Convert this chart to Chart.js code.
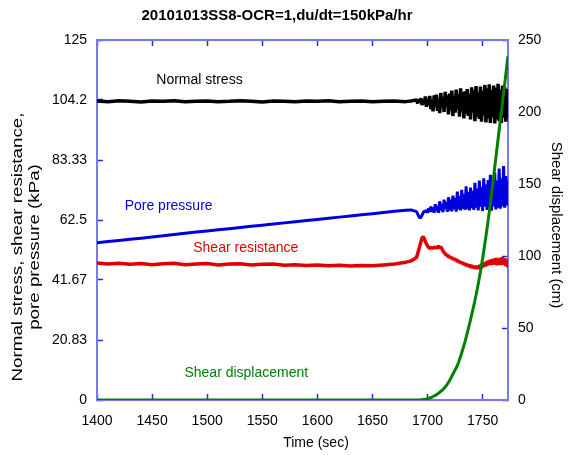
<!DOCTYPE html>
<html><head><meta charset="utf-8">
<script src="https://cdn.jsdelivr.net/npm/chart.js@4"></script>
<style>html,body{margin:0;padding:0;background:#fff;}canvas{display:block;}</style>
</head><body>
<canvas id="c" width="568" height="455"></canvas>
<script>
const chartTitle = '20101013SS8-OCR=1,du/dt=150kPa/hr';
const xTitle = 'Time (sec)';
const leftTitle = ['Normal stress, shear resistance,', 'pore pressure (kPa)'];
const rightTitle = 'Shear displacement (cm)';

const time = [
  1400,1410,1420,1430,1440,1450,1460,1470,1480,1490,
  1500,1510,1520,1530,1540,1550,1560,1570,1580,1590,
  1600,1610,1620,1630,1640,1650,1660,1670,1680,1685,
  1690,1691,1692,1693,1694,1695,1696,1697,1698,1699,
  1700,1701,1702,1703,1704,1705,1706,1707,1708,1709,
  1710,1711,1712,1713,1714,1715,1716,1717,1718,1719,
  1720,1721,1722,1723,1724,1725,1726,1727,1728,1729,
  1730,1731,1732,1733,1734,1735,1736,1737,1738,1739,
  1740,1741,1742,1743,1744,1745,1746,1747,1748,1749,
  1750,1751,1752,1753,1754,1755,1756,1757,1758,1759,
  1760,1761,1762,1763,1764,1765,1766,1767,1768,1769,
  1770,1771,1772,1773
];
const normalStress = [
  103.8,103.6,103.9,103.7,103.5,103.8,103.7,103.9,103.6,103.7,
  103.8,103.6,103.7,103.9,103.7,103.5,103.8,103.7,103.6,103.8,
  103.7,103.9,103.6,103.7,103.8,103.6,103.7,103.8,103.6,103.8,
  104.2,103.0,104.4,103.4,104.8,102.4,104.0,102.8,105.4,101.8,
  104.4,102.6,105.6,101.0,103.8,100.2,105.8,102.0,106.0,100.4,
  104.6,99.6,106.6,101.6,105.2,100.0,107.0,102.2,105.8,99.2,
  106.4,100.6,107.4,98.6,105.6,99.8,107.8,101.0,106.2,98.4,
  108.2,100.2,106.8,97.8,107.2,99.4,108.0,98.6,106.4,97.4,
  108.6,99.8,107.6,96.8,109.0,98.4,106.8,97.6,108.8,96.6,
  107.4,98.8,109.4,96.4,108.2,97.8,109.6,96.2,107.6,98.2,
  109.2,96.0,108.4,97.4,109.8,96.8,107.8,96.2,109.2,98.0,
  108.6,96.6,108.0,97.8
];
const porePressure = [
  54.6,55.0,55.4,55.8,56.2,56.6,57.0,57.5,57.9,58.3,
  58.7,59.1,59.5,59.9,60.3,60.7,61.1,61.5,61.9,62.3,
  62.7,63.1,63.5,63.9,64.3,64.7,65.1,65.5,65.9,66.0,
  65.4,64.6,63.8,63.2,63.4,64.2,65.0,65.6,65.2,66.0,
  65.0,66.5,65.4,67.2,65.3,66.8,65.0,68.0,65.6,67.4,
  65.0,69.0,65.8,68.2,65.2,69.6,66.2,68.8,65.3,70.4,
  65.8,69.6,65.5,71.0,66.2,70.2,65.4,72.4,66.2,70.8,
  65.8,73.0,66.4,71.6,66.0,74.2,66.3,72.2,65.8,73.8,
  66.6,72.6,66.0,75.4,66.8,73.4,65.8,76.2,67.0,74.0,
  65.6,77.0,67.2,74.8,66.0,76.4,66.8,78.2,65.7,75.6,
  67.2,79.0,66.2,76.2,66.8,80.4,66.4,77.0,67.2,81.2,
  66.8,77.8,67.6,76.0
];
const shearResistance = [
  47.6,47.2,47.5,47.1,47.4,47.0,47.3,47.5,47.0,47.2,
  47.4,46.9,47.2,47.3,46.9,47.1,47.2,46.8,47.0,46.7,
  46.9,46.6,46.8,46.5,46.7,46.6,46.9,47.2,47.8,48.3,
  49.5,50.8,52.2,53.6,55.0,56.2,56.8,56.0,55.0,54.2,
  53.5,53.0,52.6,53.2,52.5,53.0,52.7,53.3,52.6,53.1,
  53.4,52.8,53.2,52.5,51.8,51.2,50.8,50.2,50.4,49.6,
  49.9,49.2,49.6,48.8,49.2,48.4,48.9,48.0,48.5,47.6,
  48.1,47.3,47.8,46.9,47.5,46.6,47.2,46.3,47.0,46.0,
  46.8,45.8,46.6,45.6,46.5,45.5,46.7,45.6,47.0,45.8,
  47.4,46.2,47.8,46.5,48.2,46.8,48.6,46.9,48.8,47.0,
  49.0,47.2,49.3,46.8,49.0,47.0,49.4,46.9,49.6,47.1,
  49.2,46.5,48.8,46.0
];
const shearDisplacement = [
  0,0,0,0,0,0,0,0,0,0,
  0,0,0,0,0,0,0,0,0,0,
  0,0,0,0,0,0,0,0,0,0,
  0,0,0,0,0.1,0.2,0.3,0.4,0.5,0.7,
  0.9,1.1,1.4,1.7,2.0,2.4,2.8,3.2,3.7,4.2,
  4.8,5.4,6.0,6.6,7.3,8.1,9.0,10.0,11.1,12.3,
  13.6,15.0,16.5,18.0,19.4,20.8,22.3,23.9,25.9,28.1,
  30.4,32.8,35.3,37.9,40.6,43.4,46.4,49.5,52.6,55.8,
  59.1,62.4,65.8,69.3,72.9,76.7,80.7,84.9,89.3,93.8,
  98.5,103.4,108.5,113.8,119.2,124.8,130.6,136.6,142.8,149.1,
  155.5,161.9,168.3,174.7,181.1,187.5,193.9,200.3,206.7,213.1,
  219.5,225.9,232.3,238.7
];
const xTicks = [1400,1450,1500,1550,1600,1650,1700,1750];
const xTickLabels = ['1400','1450','1500','1550','1600','1650','1700','1750'];
const leftTickValues = [0, 20.8333, 41.6667, 62.5, 83.3333, 104.1667, 125];
const leftTickLabels = ['0','20.83','41.67','62.5','83.33','104.2','125'];
const rightTicks = [0,50,100,150,200,250];
const rightTickLabels = ['0','50','100','150','200','250'];

const seriesLabels = [
  {text:'Normal stress', x:1493, y:111, color:'#000000'},
  {text:'Pore pressure', x:1465, y:67.4, color:'#0000dd'},
  {text:'Shear resistance', x:1535, y:52.7, color:'#e00000'},
  {text:'Shear displacement', x:1535.5, y:9.4, color:'#008000'}
];

const FONT = '"Liberation Sans", Arial, Helvetica, sans-serif';
const AXIS_COLOR = '#7878f2';
const TICK_COLOR = '#2828d8';

const pts = (vals) => time.map((t, i) => ({x: t, y: vals[i]}));

const textPlugin = {
  id: 'texts',
  afterDraw(chart) {
    const ctx = chart.ctx;
    const xs = chart.scales.x, ys = chart.scales.y;
    ctx.save();
    ctx.textAlign = 'center';
    ctx.textBaseline = 'middle';
    ctx.fillStyle = '#000';
    ctx.font = 'bold 15px ' + FONT;
    ctx.fillText(chartTitle, 277, 16);
    ctx.font = '14px ' + FONT;
    ctx.fillText(xTitle, 316, 443);
    ctx.save();
    ctx.translate(18, 247);
    ctx.rotate(-Math.PI / 2);
    ctx.scale(1.25, 1);
    ctx.font = '15px ' + FONT;
    ctx.fillText(leftTitle[0], 0, 0);
    ctx.fillText(leftTitle[1], 0, 16.5);
    ctx.restore();
    ctx.save();
    ctx.translate(556, 225);
    ctx.rotate(Math.PI / 2);
    ctx.font = '15px ' + FONT;
    ctx.fillText(rightTitle, 0, 0);
    ctx.restore();
    ctx.font = '14px ' + FONT;
    seriesLabels.forEach(l => {
      ctx.fillStyle = l.color;
      ctx.fillText(l.text, xs.getPixelForValue(l.x), ys.getPixelForValue(l.y));
    });
    ctx.restore();
  }
};

const gridOpts = {drawOnChartArea: false, tickLength: -6, tickColor: TICK_COLOR, tickWidth: 1.5};
const borderOpts = {color: AXIS_COLOR, width: 2};
const tickFont = {family: FONT, size: 14};

new Chart(document.getElementById('c'), {
  type: 'line',
  data: {
    datasets: [
      {label: 'Shear displacement', data: pts(shearDisplacement), yAxisID: 'y2', borderColor: '#008000', borderWidth: 3},
      {label: 'Shear resistance', data: pts(shearResistance), yAxisID: 'y', borderColor: '#e00000', borderWidth: 3.5},
      {label: 'Pore pressure', data: pts(porePressure), yAxisID: 'y', borderColor: '#0000dd', borderWidth: 3},
      {label: 'Normal stress', data: pts(normalStress), yAxisID: 'y', borderColor: '#000000', borderWidth: 3.5}
    ]
  },
  options: {
    responsive: false,
    animation: false,
    elements: {point: {radius: 0}, line: {tension: 0, borderJoinStyle: 'bevel', borderCapStyle: 'butt'}},
    layout: {padding: {top: 40, left: 0, right: 0, bottom: 0}},
    plugins: {legend: {display: false}, title: {display: false}, tooltip: {enabled: false}},
    scales: {
      x: {
        type: 'linear', position: 'bottom', min: 1400, max: 1773,
        afterBuildTicks: s => { s.ticks = xTicks.map(v => ({value: v})); },
        afterFit: s => { s.height = 55; },
        ticks: {font: tickFont, color: '#000', padding: 19, maxRotation: 0, autoSkip: false,
          callback: (v, i) => xTickLabels[i]},
        grid: gridOpts, border: borderOpts
      },
      x2: {
        type: 'linear', position: 'top', min: 1400, max: 1773,
        afterBuildTicks: s => { s.ticks = xTicks.map(v => ({value: v})); },
        afterFit: s => { s.height = 0; },
        ticks: {display: false},
        grid: gridOpts, border: borderOpts
      },
      y: {
        type: 'linear', position: 'left', min: 0, max: 125,
        afterBuildTicks: s => { s.ticks = leftTickValues.map(v => ({value: v})); },
        afterFit: s => { s.width = 97; },
        ticks: {font: tickFont, color: '#000', padding: 16, autoSkip: false,
          callback: (v, i) => leftTickLabels[i]},
        grid: gridOpts, border: borderOpts
      },
      y2: {
        type: 'linear', position: 'right', min: 0, max: 250,
        afterBuildTicks: s => { s.ticks = rightTicks.map(v => ({value: v})); },
        afterFit: s => { s.width = 60; },
        ticks: {font: tickFont, color: '#000', padding: 16, autoSkip: false,
          callback: (v, i) => rightTickLabels[i]},
        grid: gridOpts, border: borderOpts
      }
    }
  },
  plugins: [textPlugin]
});
</script>
</body></html>
